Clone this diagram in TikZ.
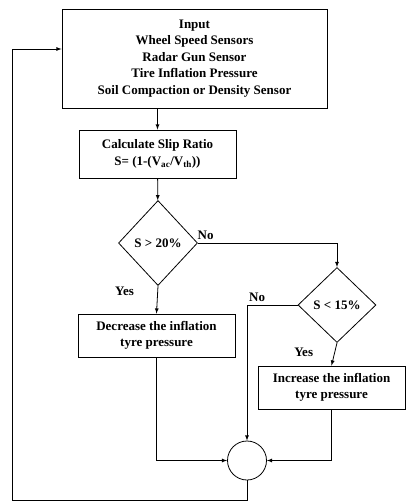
\documentclass[tikz,border=0pt]{standalone}
\usepackage{fontspec}
\setmainfont{Liberation Serif}
\usetikzlibrary{shapes.geometric}
\tikzset{
  block/.style={draw, line width=0.8pt, align=center, font=\fontsize{13}{16.5}\selectfont\bfseries},
  decide/.style={draw, diamond, line width=0.8pt, inner sep=0pt, font=\fontsize{13}{15}\selectfont\bfseries},
  lbl/.style={font=\fontsize{13}{15}\selectfont\bfseries}
}
\begin{document}
\begin{tikzpicture}[x=1pt, y=-1pt, line width=0.8pt]
    \useasboundingbox (0,0) rectangle (406,501);
    \node[block, minimum width=265pt, minimum height=99pt] (input) at (194.5, 58.5) {Input\\Wheel Speed Sensors\\Radar Gun Sensor\\Tire Inflation Pressure\\Soil Compaction or Density Sensor};
    \node[block, minimum width=157pt, minimum height=48pt] (slip) at (157.5, 154) {Calculate Slip Ratio\\S= (1-(V\textsubscript{ac}/V\textsubscript{th}))};
    \node[decide, minimum width=79pt, minimum height=85pt] (high) at (158, 243) {S > 20\%};
    \node[decide, minimum width=78pt, minimum height=75pt] (low) at (337, 305) {S < 15\%};
    \node[block, minimum width=157pt, minimum height=43pt] (decrease) at (156.5, 335.5) {Decrease the inflation\\tyre pressure};
    \node[block, minimum width=147pt, minimum height=43pt] (increase) at (331.5, 387.5) {Increase the inflation\\tyre pressure};
    \node[draw, circle, minimum size=39pt, inner sep=0pt] (sum) at (247, 460.5) {};
    \coordinate (loop) at (12, 500);
    \draw[-latex] (slip.north |- input.south) -- (slip.north);
    \draw[-latex] (slip) -- (high);
    \draw[-latex] (high.east) -| node[lbl, pos=0, above right, xshift=-4pt]{No} (low.north);
    \draw[-latex] (high.south) -- node[lbl, pos=0.2, left, xshift=-20pt]{Yes} (decrease.north);
    \draw[-latex] (low.west) -| node[lbl, pos=0.4, above]{No} (sum.north);
    \draw[-latex] (low.south) -- node[lbl, pos=0.4, left, xshift=-18pt]{Yes} (increase.north);
    \draw[-latex] (decrease.south) |- (sum.west);
    \draw[-latex] (increase.south) |- (sum.east);
    \draw[-latex] (sum.south) |- (loop) |- ([yshift=9.5pt]input.west);
\end{tikzpicture}
\end{document}
